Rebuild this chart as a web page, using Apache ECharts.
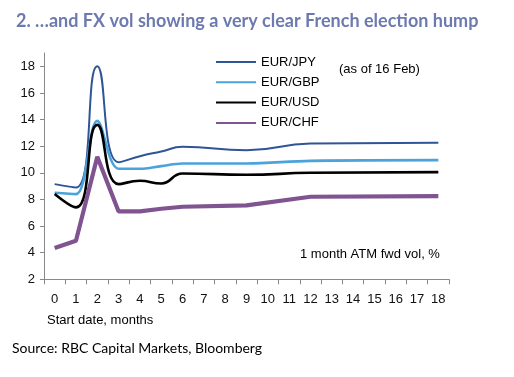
<!DOCTYPE html>
<html>
<head>
<meta charset="utf-8">
<script src="https://cdn.jsdelivr.net/npm/echarts@6/dist/echarts.min.js"></script>
<style>
  html, body { margin: 0; padding: 0; background: #fff; }
  #chart { width: 514px; height: 377px; }
</style>
</head>
<body>
<div id="chart"></div>
<script>
// start date, months
const months = ['0', '1', '2', '3', '4', '5', '6', '7', '8', '9', '10', '11', '12', '13', '14', '15', '16', '17', '18']
// 1 month ATM fwd vol, % (null = no quote, line joins across)
const eurJpy = [9.15, 8.9, 18.0, 10.8, 11.25, 11.6, 11.95, null, null, 11.7, null, null, 12.2, null, null, null, null, null, 12.25]
const eurGbp = [8.5, 8.4, 13.9, 10.3, 10.3, 10.5, 10.7, null, null, 10.7, null, null, 10.9, null, null, null, null, null, 10.95]
const eurUsd = [8.4, 7.4, 13.6, 9.15, 9.4, 9.2, 9.95, null, null, 9.85, null, null, 10.0, null, null, null, null, null, 10.05]
const eurChf = [4.35, 4.9, 11.2, 7.1, 7.1, 7.3, 7.45, null, null, 7.55, null, null, 8.2, null, null, null, null, null, 8.25]
const yTicks = [2, 4, 6, 8, 10, 12, 14, 16, 18]

const chart = echarts.init(document.getElementById('chart'))

function line(name, data, color, width, smooth) {
  return {
    name: name,
    type: 'line',
    data: data,
    connectNulls: true,
    smooth: smooth,
    symbol: 'none',
    lineStyle: { color: color, width: width },
    itemStyle: { color: color },
    animation: false
  }
}

const option = {
  backgroundColor: '#fff',
  title: {
    text: '2. \u2026and FX vol showing a very clear French election hump',
    left: 11,
    top: 7,
    textStyle: {
      fontFamily: 'Lato',
      fontWeight: 'bold',
      fontSize: 18,
      color: '#6c7ab0'
    }
  },
  legend: {
    orient: 'vertical',
    left: 210,
    top: 50.5,
    itemWidth: 40,
    itemHeight: 14,
    itemGap: 7.3,
    itemStyle: { opacity: 0 },
    textStyle: { fontFamily: 'Liberation Sans', fontSize: 13, color: '#000' },
    data: ['EUR/JPY', 'EUR/GBP', 'EUR/USD', 'EUR/CHF']
  },
  grid: { left: 44, right: 65, top: 53, bottom: 97.7 },
  xAxis: {
    type: 'category',
    data: months,
    boundaryGap: true,
    axisLine: { lineStyle: { color: '#888', width: 1 } },
    axisTick: { show: true, length: 5, lineStyle: { color: '#888' } },
    axisLabel: { color: '#111', fontFamily: 'Liberation Sans', fontSize: 13, margin: 14, interval: 0 }
  },
  yAxis: {
    type: 'value',
    min: 2,
    max: 19,
    interval: 2,
    splitLine: { show: false },
    axisLine: { show: true, lineStyle: { color: '#888', width: 1 } },
    axisTick: { show: true, length: 4, customValues: yTicks, lineStyle: { color: '#888' } },
    axisLabel: { color: '#111', fontFamily: 'Liberation Sans', fontSize: 13, margin: 9, customValues: yTicks }
  },
  graphic: [
    { type: 'text', left: 339, top: 63, style: { text: '(as of 16 Feb)', font: '13px "Liberation Sans"', fill: '#000' } },
    { type: 'text', left: 300, top: 248, style: { text: '1 month ATM fwd vol, %', font: '13px "Liberation Sans"', fill: '#000' } },
    { type: 'text', left: 47, top: 314, style: { text: 'Start date, months', font: '13px "Liberation Sans"', fill: '#000' } },
    { type: 'text', left: 12, top: 341, style: { text: 'Source: RBC Capital Markets, Bloomberg', font: '14px Lato', fill: '#000' } }
  ],
  series: [
    line('EUR/JPY', eurJpy, '#2f5597', 2, 0.5),
    line('EUR/GBP', eurGbp, '#4ba3dc', 2.6, 0.35),
    line('EUR/USD', eurUsd, '#000000', 2.6, 0.5),
    line('EUR/CHF', eurChf, '#7f5490', 4.2, false)
  ]
}
chart.setOption(option)
</script>
</body>
</html>
